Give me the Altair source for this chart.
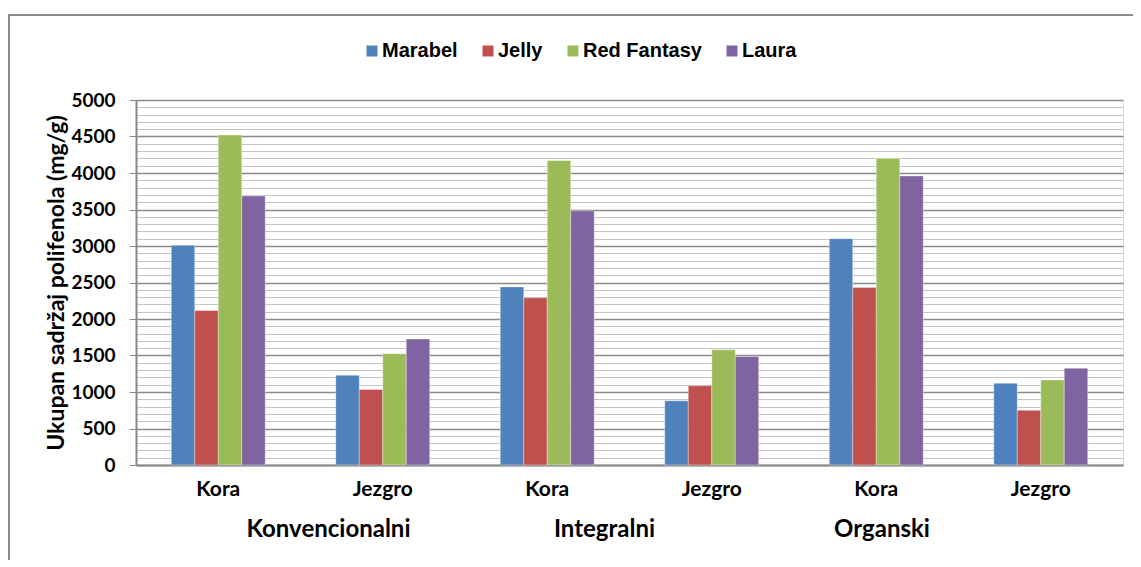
import altair as alt
import pandas as pd

systems = ["Konvencionalni", "Integralni", "Organski"]
parts = ["Kora", "Jezgro"]
series = ["Marabel", "Jelly", "Red Fantasy", "Laura"]
colors = ["#4F81BD", "#C0504D", "#9BBB59", "#8064A2"]

# values per category (system|part), order of series
marabel = [3010, 1230, 2440, 880, 3100, 1120]
jelly = [2115, 1035, 2290, 1085, 2430, 750]
red_fantasy = [4520, 1525, 4170, 1580, 4200, 1165]
laura = [3685, 1725, 3480, 1485, 3960, 1325]

cats = [f"{s}|{p}" for s in systems for p in parts]
rows = []
for name, vals in zip(series, [marabel, jelly, red_fantasy, laura]):
    for c, v in zip(cats, vals):
        rows.append({"cat": c, "series": name, "value": v})
df = pd.DataFrame(rows)

group_labels = pd.DataFrame({"label": systems, "px": [192.5, 468.5, 746]})

W, H = 987, 365
PI = 0.4286

bars = alt.Chart(df).mark_bar(stroke="white", strokeWidth=0.6, strokeOpacity=0.6).encode(
    x=alt.X("cat:N", sort=cats,
            scale=alt.Scale(paddingInner=PI, paddingOuter=PI / 2),
            axis=alt.Axis(title=None, labelAngle=0,
                          labelExpr="split(datum.label, '|')[1]",
                          labelFont="Lato", labelFontWeight="bold", labelFontSize=21,
                          labelColor="black", labelPadding=13,
                          ticks=False, domainColor="#888888", domainWidth=2,
                          grid=False)),
    xOffset=alt.XOffset("series:N", sort=series,
                        scale=alt.Scale(paddingInner=0, paddingOuter=0)),
    y=alt.Y("value:Q",
            scale=alt.Scale(domain=[0, 5000], nice=False),
            axis=alt.Axis(title="Ukupan sadržaj polifenola (mg/g)",
                          values=list(range(0, 5001, 100)),
                          labelExpr="datum.value % 500 === 0 ? datum.label : ''",
                          format="d",
                          labelFont="Lato", labelFontWeight="bold", labelFontSize=19,
                          labelColor="black", labelPadding=14,
                          tickSize=7,
                          tickColor="#888888",
                          tickOpacity={"condition": {"test": "datum.value % 500 === 0", "value": 1}, "value": 0},
                          grid=True,
                          gridColor={"condition": {"test": "datum.value % 500 === 0", "value": "#8a8a8a"}, "value": "#c4c4c4"},
                          gridWidth={"condition": {"test": "datum.value % 500 === 0", "value": 1.6}, "value": 1.2},
                          domainColor="#888888", domainWidth=2,
                          titleFont="Lato", titleFontWeight="bold", titleFontSize=23,
                          titleColor="black", titleAngle=-90, titleBaseline="middle",
                          titleX=-80, titleY=H / 2)),
    color=alt.Color("series:N", sort=series,
                    scale=alt.Scale(domain=series, range=colors),
                    legend=alt.Legend(title=None, orient="none", direction="horizontal",
                                      legendX=226, legendY=-59,
                                      symbolType="square", symbolSize=121,
                                      symbolStrokeWidth=0,
                                      labelFont="Liberation Sans", labelFontWeight="bold",
                                      labelFontSize=20, labelColor="black",
                                      labelOffset=0, columnPadding=20)),
)

groups = alt.Chart(group_labels).mark_text(
    font="Lato", fontWeight="bold", fontSize=24, color="black", baseline="middle", align="center"
).encode(
    x=alt.X("px:Q", scale=None),
    y=alt.value(430),
    text="label:N",
)

frame = alt.Chart(pd.DataFrame({"a": [0]})).mark_rect(
    fill=None, stroke="#8c8c8c", strokeWidth=2, clip=False
).encode(
    x=alt.value(-127), x2=alt.value(1100), y=alt.value(-85), y2=alt.value(560)
)

chart = alt.layer(frame, bars, groups).properties(
    width=W, height=H,
    autosize=alt.AutoSizeParams(type="none"),
    padding={"left": 128, "top": 92, "right": 10, "bottom": 95},
).configure_view(stroke=None).configure(background="white")

chart.save("out.html", embed_options={"renderer": "svg", "actions": False})
